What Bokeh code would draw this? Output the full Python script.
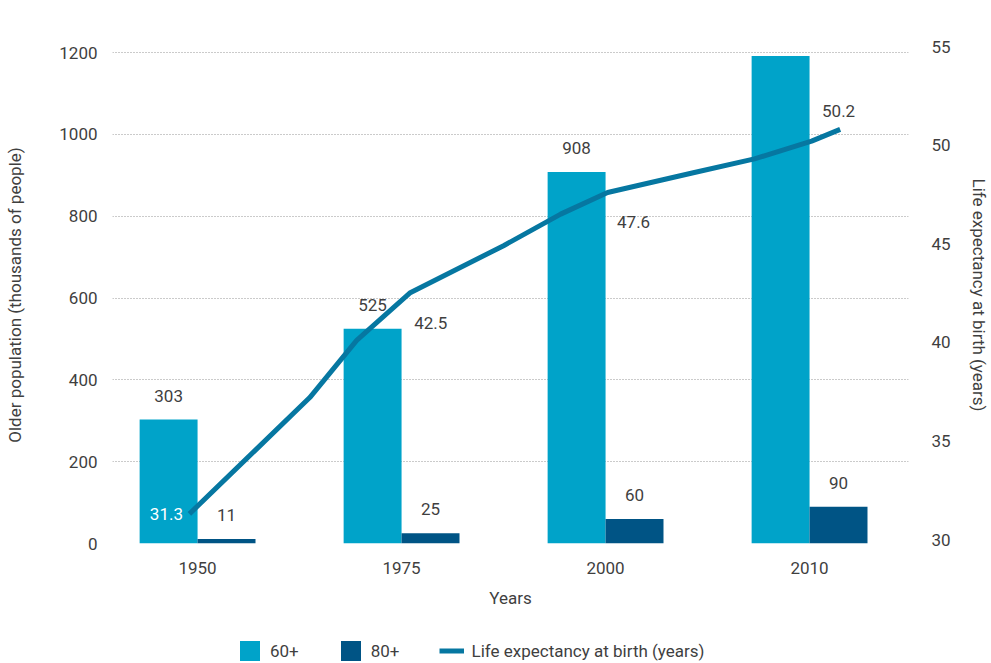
import numpy as np
from bokeh.plotting import figure
from bokeh.layouts import column
from bokeh.models import Range1d, LinearAxis, FixedTicker, Legend, LegendItem, ColumnDataSource
from bokeh.embed import file_html
from bokeh.resources import INLINE

# ---------------- data ----------------
years = ["1950", "1975", "2000", "2010"]
pop_60 = [303, 525, 908, 1192]          # thousands of people, 60+
pop_80 = [11, 25, 60, 90]               # thousands of people, 80+
# life expectancy line: position along the year axis (1 = 1950 group, 2 = 1975, ...)
life_x = [0.96, 1.29, 1.55, 1.78, 2.04, 2.50, 2.78, 3.01, 3.43, 3.73, 4.01, 4.15]
life_exp = [31.3, 34.6, 37.2, 40.1, 42.5, 44.9, 46.5, 47.6, 48.6, 49.3, 50.2, 50.8]
life_labeled = [0, 4, 7, 10]            # points that carry a value label
left_ticks = [0, 200, 400, 600, 800, 1000, 1200]
right_ticks = [30, 35, 40, 45, 50, 55]

# ---------------- style ----------------
FONT = "Roboto"
FS = "17px"
TXT = "#3f3f3f"
C60 = "#00a3c9"
C80 = "#005485"
CLINE = "#0677a1"
GRID = "#969696"

cat_pos = np.arange(1, len(years) + 1)
BW = 0.284

p = figure(width=991, height=618, output_backend="svg", toolbar_location=None,
           x_range=Range1d(0.583, 4.485), y_range=Range1d(0, 1215),
           min_border_left=112, min_border_right=83, min_border_top=46,
           min_border_bottom=75)
p.outline_line_color = None
p.extra_y_ranges = {"life": Range1d(29.8, 55)}

# grid
p.xgrid.grid_line_color = None
p.ygrid.ticker = FixedTicker(ticks=left_ticks)
p.ygrid.grid_line_color = GRID
p.ygrid.grid_line_dash = "1 2"
p.ygrid.grid_line_width = 1

# x axis
xa = p.xaxis[0]
xa.ticker = FixedTicker(ticks=list(cat_pos))
xa.major_label_overrides = {int(k): v for k, v in zip(cat_pos, years)}
xa.axis_label = "Years"

# left axis
ya = p.yaxis[0]
ya.ticker = FixedTicker(ticks=left_ticks)
ya.axis_label = "Older population (thousands of people)"

# right axis
ra = LinearAxis(y_range_name="life", ticker=FixedTicker(ticks=right_ticks),
                axis_label="Life expectancy at birth (years)")
p.add_layout(ra, "right")

for ax in (xa, ya, ra):
    ax.axis_line_color = None
    ax.major_tick_line_color = None
    ax.minor_tick_line_color = None
    ax.major_tick_out = 0
    ax.major_tick_in = 0
    ax.major_label_text_font = FONT
    ax.major_label_text_font_size = FS
    ax.major_label_text_color = TXT
    ax.axis_label_text_font = FONT
    ax.axis_label_text_font_size = FS
    ax.axis_label_text_font_style = "normal"
    ax.axis_label_text_color = TXT

xa.major_label_standoff = 18
xa.axis_label_standoff = 11
ya.major_label_standoff = 15
ya.axis_label_standoff = 31
ra.major_label_standoff = 23
ra.axis_label_standoff = 15

# bars
r60 = p.vbar(x=cat_pos - BW / 2, top=pop_60, width=BW, color=C60, line_color=None)
r80 = p.vbar(x=cat_pos + BW / 2, top=pop_80, width=BW, color=C80, line_color=None)

def fmt(v):
    return f"{v:,}".replace(",", " ")

bar_src = ColumnDataSource(dict(
    x=list(cat_pos - BW / 2) + list(cat_pos + BW / 2),
    y=pop_60 + pop_80,
    t=[fmt(v) for v in pop_60 + pop_80],
))
p.text(x="x", y="y", text="t", source=bar_src, text_align="center",
       text_baseline="middle", y_offset=-24, text_font_size=FS,
       text_color=TXT, text_font={"value": FONT})

# life expectancy line
rl = p.line(life_x, life_exp, y_range_name="life", line_width=5,
            line_color=CLINE, line_join="round")

lab_offsets = [(-23, 0), (21, 30), (26, 30), (27, -30)]
lab_colors = ["white", TXT, TXT, TXT]
for i, (dx, dy), c in zip(life_labeled, lab_offsets, lab_colors):
    p.text(x=[life_x[i]], y=[life_exp[i]], text=[f"{life_exp[i]:.1f}"],
           y_range_name="life", text_align="center", text_baseline="middle",
           x_offset=dx, y_offset=dy, text_font_size=FS, text_color=c,
           text_font={"value": FONT})

# legend strip (separate figure below the chart); proxy glyphs have zero size
leg = figure(width=991, height=45, output_backend="svg", toolbar_location=None,
             x_range=Range1d(0, 1), y_range=Range1d(0, 1), min_border=0,
             x_axis_location=None, y_axis_location=None)
leg.grid.visible = False
leg.outline_line_color = None
d60 = leg.vbar(x=[0.5], top=[0], bottom=[0], width=0, color=C60, line_color=None)
d80 = leg.vbar(x=[0.5], top=[0], bottom=[0], width=0, color=C80, line_color=None)
dl = leg.line(x=[0.5, 0.5], y=[0.5, 0.5], line_width=5, line_color=CLINE)
legend = Legend(items=[LegendItem(label="60+", renderers=[d60]),
                       LegendItem(label="80+", renderers=[d80]),
                       LegendItem(label="Life expectancy at birth (years)", renderers=[dl])],
                orientation="horizontal", location=(125, 0),
                glyph_width=25, glyph_height=25, label_standoff=8, spacing=39,
                padding=0, margin=0, border_line_color=None,
                background_fill_alpha=0, label_text_font=FONT,
                label_text_font_size=FS, label_text_color=TXT)
leg.add_layout(legend)

open("out.html", "w").write(file_html(column(p, leg, spacing=0), INLINE))
